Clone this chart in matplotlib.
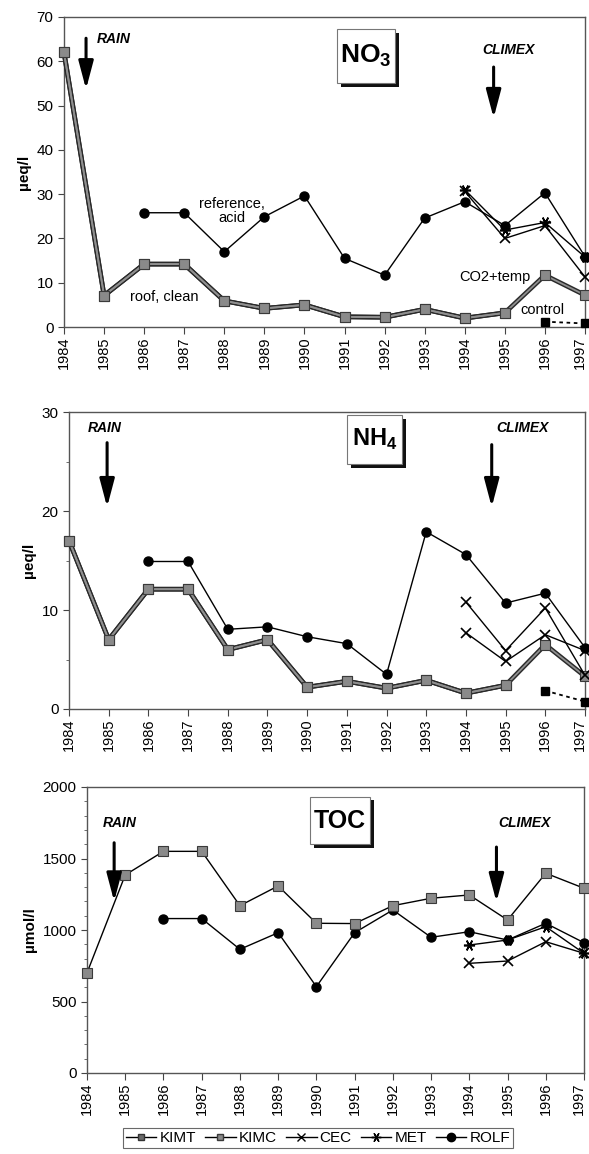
import matplotlib
matplotlib.use("Agg")
import matplotlib.pyplot as plt
from matplotlib.patches import Rectangle
from matplotlib.transforms import ScaledTranslation
from matplotlib.lines import Line2D

plt.rcParams['font.family'] = ['Liberation Sans', 'DejaVu Sans']
plt.rcParams['mathtext.fontset'] = 'custom'
plt.rcParams['mathtext.rm'] = 'Liberation Sans'
plt.rcParams['mathtext.bf'] = 'Liberation Sans:bold'

years = list(range(1984, 1998))
years_rolf = list(range(1986, 1998))
years_exp = [1994, 1995, 1996, 1997]
years_ctrl = [1996, 1997]

# NO3 (µeq/l)
no3_kimt = [62.0, 7.1, 14.2, 14.2, 5.9, 4.2, 5.0, 2.3, 2.2, 4.0, 2.0, 3.2, 11.7, 7.2]
no3_kimc = [62.0, 7.1, 14.2, 14.2, 5.9, 4.2, 5.0, 2.3, 2.2, 4.0, 2.0, 3.2]
no3_ctrl = [1.2, 0.8]
no3_cec = [30.6, 20.0, 22.9, 11.3]
no3_met = [31.0, 21.9, 23.6, 15.8]
no3_rolf = [25.8, 25.8, 17.0, 24.9, 29.6, 15.5, 11.7, 24.6, 28.3, 22.9, 30.3, 15.9]

# NH4 (µeq/l)
nh4_kimt = [17.0, 7.0, 12.1, 12.1, 6.0, 7.0, 2.2, 2.8, 2.1, 2.9, 1.6, 2.4, 6.5, 3.3]
nh4_kimc = [17.0, 7.0, 12.1, 12.1, 6.0, 7.0, 2.2, 2.8, 2.1, 2.9, 1.6, 2.4]
nh4_ctrl = [1.85, 0.75]
nh4_cec = [7.7, 4.8, 7.5, 5.9]
nh4_met = [10.8, 5.9, 10.2, 3.4]
nh4_rolf = [14.9, 14.9, 8.05, 8.3, 7.3, 6.6, 3.5, 17.9, 15.6, 10.7, 11.7, 6.2]

# TOC (µmol/l)
toc_kimt = [700, 1385, 1550, 1550, 1170, 1308, 1047, 1045, 1170, 1222, 1245, 1070, 1397, 1292]
toc_cec = [767, 783, 918, 837]
toc_met = [895, 930, 1023, 837]
toc_rolf = [1080, 1080, 865, 981, 604, 981, 1140, 949, 988, 930, 1047, 911]

W, H = 589, 1154
fig = plt.figure(figsize=(W / 100, H / 100), dpi=100)

def ax_at(l, t, r, b):
    return fig.add_axes([l / W, 1 - b / H, (r - l) / W, (b - t) / H])

ax1 = ax_at(64, 17, 585, 327)
ax2 = ax_at(69, 412, 585, 709)
ax3 = ax_at(87, 787, 584, 1073)

SQ_FC = '#8a8a8a'
SQ_EC = '#3a3a3a'

def thick_square_line(ax, x, y):
    ax.plot(x, y, color='#2a2a2a', lw=3.4, clip_on=False, zorder=3, solid_joinstyle='miter')
    ax.plot(x, y, color='#8f8f8f', lw=1.3, clip_on=False, zorder=3.1,
            marker='s', ms=6.5, mfc=SQ_FC, mec=SQ_EC, mew=0.8)

def style_axes(ax, ylim, yticks, minor=None, ylabel='µeq/l'):
    ax.set_xlim(1984, 1997)
    ax.set_ylim(*ylim)
    ax.set_xticks(years)
    ax.set_xticklabels([str(y) for y in years], rotation=90, fontsize=10.5)
    ax.set_yticks(yticks)
    ax.set_yticklabels([str(v) for v in yticks], fontsize=11)
    if minor is not None:
        ax.set_yticks(minor, minor=True)
        ax.tick_params(axis='y', which='minor', length=2.5, color='#555555')
    ax.tick_params(axis='x', which='major', direction='out', length=5, color='#444444', pad=2)
    ax.tick_params(axis='y', which='major', direction='out', length=4, color='#444444')
    last = ax.get_xticklabels()[-1]
    last.set_transform(last.get_transform() + ScaledTranslation(-5 / 100, 0, fig.dpi_scale_trans))
    for s in ax.spines.values():
        s.set_color('#555555')
        s.set_linewidth(1.0)
    ax.set_ylabel(ylabel, fontsize=11, fontweight='bold')

def title_box(ax, x0, y0, x1, y1, text, fs):
    sh = Rectangle((x0 + 0.008, y0 - 0.012), x1 - x0, y1 - y0, transform=ax.transAxes,
                   fc='#111111', ec='none', zorder=5, clip_on=False)
    bx = Rectangle((x0, y0), x1 - x0, y1 - y0, transform=ax.transAxes,
                   fc='white', ec='#777777', lw=0.8, zorder=6, clip_on=False)
    ax.add_patch(sh)
    ax.add_patch(bx)
    ax.text((x0 + x1) / 2, (y0 + y1) / 2, text, transform=ax.transAxes, ha='center',
            va='center', fontsize=fs, fontweight='bold', zorder=7)

def arrow(ax, x, y0, y1):
    ax.annotate('', xy=(x, y1), xytext=(x, y0),
                arrowprops=dict(arrowstyle='-|>,head_width=0.45,head_length=1.7',
                                lw=2.2, color='black', mutation_scale=10,
                                shrinkA=0, shrinkB=0), zorder=8)

def lbl(ax, x, y, s):
    ax.text(x, y, s, fontsize=10, fontweight='bold', fontstyle='italic', ha='left', va='center')

# ---------- NO3 ----------
ax = ax1
ax.plot(years_rolf, no3_rolf, color='black', lw=1.0, marker='o', ms=6.5, clip_on=False, zorder=4)
ax.plot(years_exp, no3_cec, color='black', lw=1.0, marker='x', ms=7, mew=1.2, clip_on=False, zorder=4)
ax.plot(years_exp, no3_met, color='black', lw=1.0, marker=(6, 2, 90), ms=8, mew=1.2, clip_on=False, zorder=4)
thick_square_line(ax, years[:len(no3_kimc)], no3_kimc)
thick_square_line(ax, years, no3_kimt)
ax.plot(years_ctrl, no3_ctrl, color='black', lw=1.3, ls=(0, (2, 2)), marker='s', ms=6,
        mfc='black', mec='black', clip_on=False, zorder=4)
style_axes(ax, (0, 70), list(range(0, 71, 10)))
title_box(ax, 0.524, 0.787, 0.635, 0.962, r'NO$_{\mathbf{3}}$', 19)
lbl(ax, 1984.82, 65.0, 'RAIN')
arrow(ax, 1984.55, 65.2, 53.7)
lbl(ax, 1994.43, 62.5, 'CLIMEX')
arrow(ax, 1994.72, 58.7, 47.2)
ax.text(1988.2, 26.3, 'reference,\nacid', fontsize=10.5, ha='center', va='center', linespacing=1.0)
ax.text(1986.5, 6.8, 'roof, clean', fontsize=10.5, ha='center', va='center')
ax.text(1994.75, 11.3, 'CO2+temp', fontsize=10.5, ha='center', va='center')
ax.text(1995.95, 3.8, 'control', fontsize=10.5, ha='center', va='center')

# ---------- NH4 ----------
ax = ax2
ax.plot(years_rolf, nh4_rolf, color='black', lw=1.0, marker='o', ms=6.5, clip_on=False, zorder=4)
ax.plot(years_exp, nh4_cec, color='black', lw=1.0, marker='x', ms=7, mew=1.2, clip_on=False, zorder=4)
ax.plot(years_exp, nh4_met, color='black', lw=1.0, marker='x', ms=7, mew=1.2, clip_on=False, zorder=4)
thick_square_line(ax, years[:len(nh4_kimc)], nh4_kimc)
thick_square_line(ax, years, nh4_kimt)
ax.plot(years_ctrl, nh4_ctrl, color='black', lw=1.3, ls=(0, (2, 2)), marker='s', ms=6,
        mfc='black', mec='black', clip_on=False, zorder=4)
style_axes(ax, (0, 30), [0, 10, 20, 30], minor=[5, 15, 25])
title_box(ax, 0.539, 0.825, 0.645, 0.99, r'NH$_{\mathbf{4}}$', 17)
lbl(ax, 1984.47, 28.4, 'RAIN')
arrow(ax, 1984.96, 26.9, 20.4)
lbl(ax, 1994.77, 28.4, 'CLIMEX')
arrow(ax, 1994.65, 26.7, 20.4)

# ---------- TOC ----------
ax = ax3
ax.plot(years_rolf, toc_rolf, color='black', lw=1.0, marker='o', ms=6.5, clip_on=False, zorder=4)
ax.plot(years_exp, toc_cec, color='black', lw=1.0, marker='x', ms=7, mew=1.2, clip_on=False, zorder=4)
ax.plot(years_exp, toc_met, color='black', lw=1.0, marker=(6, 2, 90), ms=8, mew=1.2, clip_on=False, zorder=4)
ax.plot(years, toc_kimt, color='black', lw=1.0, marker='s', ms=6.5, mfc=SQ_FC, mec=SQ_EC,
        mew=0.8, clip_on=False, zorder=4)
style_axes(ax, (0, 2000), [0, 500, 1000, 1500, 2000], minor=list(range(100, 2000, 100)),
           ylabel='µmol/l')
title_box(ax, 0.449, 0.80, 0.569, 0.965, 'TOC', 18)
lbl(ax, 1984.4, 1748, 'RAIN')
arrow(ax, 1984.71, 1610, 1200)
lbl(ax, 1994.75, 1748, 'CLIMEX')
arrow(ax, 1994.71, 1580, 1196)

# ---------- Legend ----------
handles = [
    Line2D([], [], color='black', lw=1.0, marker='s', ms=5, mfc='#6a6a6a', mec='#333333'),
    Line2D([], [], color='black', lw=1.0, marker='s', ms=5, mfc=SQ_FC, mec=SQ_EC),
    Line2D([], [], color='black', lw=1.0, marker='x', ms=6, mew=1.0),
    Line2D([], [], color='black', lw=1.0, marker=(6, 2, 90), ms=7, mew=1.0),
    Line2D([], [], color='black', lw=1.0, marker='o', ms=6),
]
leg = fig.legend(handles, ['KIMT', 'KIMC', 'CEC', 'MET', 'ROLF'], loc='center',
                 bbox_to_anchor=(318 / W, 1 - 1138 / H), ncol=5, fontsize=11,
                 frameon=True, fancybox=False, edgecolor='#444444', handlelength=2.0,
                 handletextpad=0.2, columnspacing=0.6, borderpad=0.2, borderaxespad=0)
leg.get_frame().set_linewidth(0.8)

fig.savefig('out.png', dpi=100)
